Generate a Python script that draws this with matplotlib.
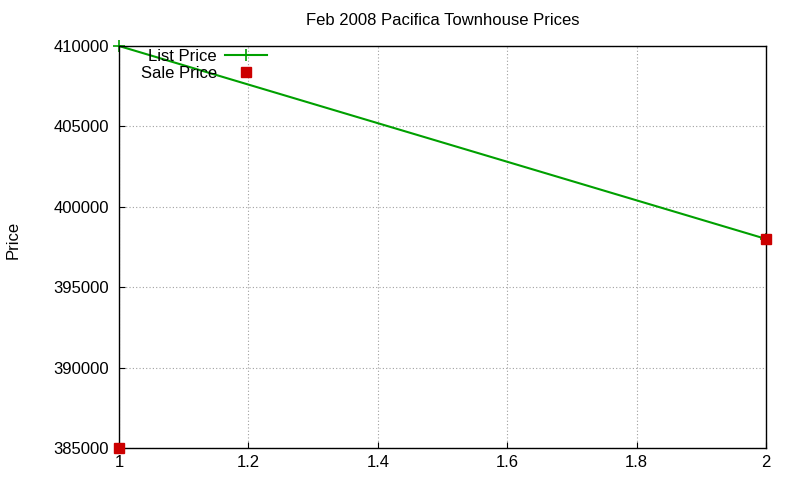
import matplotlib
matplotlib.use("Agg")
from matplotlib import pyplot as plt

x_vals = [1, 2]
list_price = [410000, 398000]
sale_price = [385000, 398000]

x_ticks = [1, 1.2, 1.4, 1.6, 1.8, 2]
y_ticks = [385000, 390000, 395000, 400000, 405000, 410000]

plt.rcParams['font.family'] = ['Liberation Sans', 'DejaVu Sans']

fig = plt.figure(figsize=(8, 4.8), dpi=100)
ax = fig.add_axes([0.14875, 0.0667, 0.80875, 0.8375])

ax.plot(x_vals, list_price, color="#00a000", linewidth=1.5, marker="+",
        markersize=8, markeredgewidth=1.2, label="List Price", clip_on=False)
ax.plot(x_vals, sale_price, color="#cc0000", linestyle="None", marker="s",
        markersize=6.5, label="Sale Price", clip_on=False, zorder=5)

ax.set_xlim(1, 2)
ax.set_ylim(385000, 410000)
ax.set_xticks(x_ticks)
ax.set_xticklabels([f"{t:g}" for t in x_ticks])
ax.set_yticks(y_ticks)
ax.set_yticklabels([str(t) for t in y_ticks])
ax.tick_params(direction="in", length=4, labelsize=12, color="black")
ax.tick_params(axis="x", pad=5)
ax.tick_params(axis="y", pad=7)
ax.grid(True, color="#a0a0a0", linestyle=(0, (1, 2)), linewidth=0.8)
for s in ax.spines.values():
    s.set_linewidth(1)

ax.set_title("Feb 2008 Pacifica Townhouse Prices", fontsize=12, pad=15)
fig.text(0.016, 0.5, "Price", rotation=90, va="center", ha="center", fontsize=12)

ax.legend(loc="upper left", bbox_to_anchor=(0.034, 0.992), frameon=False,
          markerfirst=False, fontsize=12, handlelength=2.5, labelspacing=0.08,
          handletextpad=0.5, borderaxespad=0, borderpad=0)

fig.savefig("out.png", dpi=100)
